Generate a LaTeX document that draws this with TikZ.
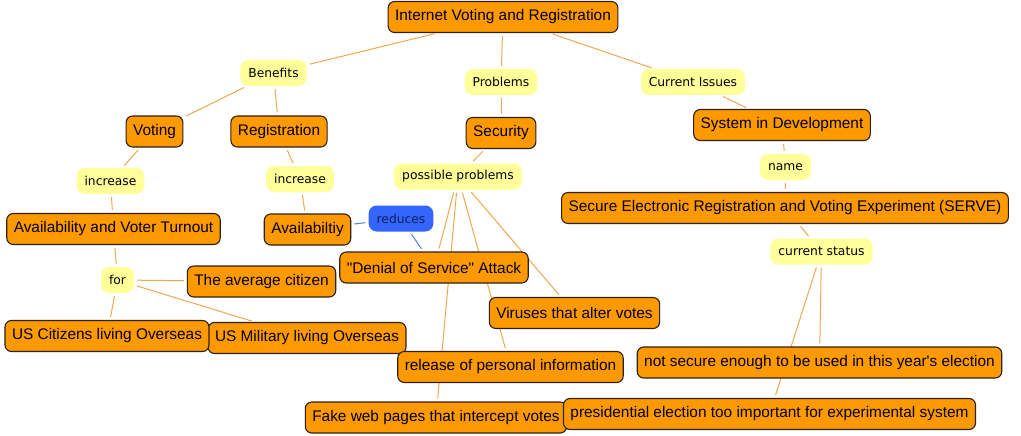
\documentclass[tikz,border=0pt]{standalone}
\usepackage{fontspec}
\usepackage{tikz}
\usetikzlibrary{backgrounds}
\newfontfamily\cfont{Liberation Sans}
\newfontfamily\lfont{DejaVu Sans}
\definecolor{conceptfill}{HTML}{FF9900}
\definecolor{conceptline}{HTML}{2B2117}
\definecolor{labelfill}{HTML}{FFFF99}
\definecolor{verbfill}{HTML}{3366FF}
\definecolor{verbtext}{HTML}{0F1E55}
\definecolor{linkline}{HTML}{EDA850}
\definecolor{bluelinkline}{HTML}{4F7FE8}
\tikzset{
  concept/.style={draw=conceptline,fill=conceptfill,rounded corners=6.5pt,line width=1.1pt,
    minimum height=31pt,inner xsep=7pt,inner ysep=0pt,font=\cfont\fontsize{15.4}{18}\selectfont},
  linklbl/.style={fill=labelfill,rounded corners=8pt,minimum height=26pt,inner xsep=8pt,
    inner ysep=0pt,font=\lfont\fontsize{12.3}{15}\selectfont},
  verblbl/.style={linklbl,fill=verbfill,text=verbtext},
  link/.style={draw=linkline,line width=1pt,shorten >=3pt,shorten <=3pt},
  bluelink/.style={link,draw=bluelinkline},
}

\begin{document}
\begin{tikzpicture}[x=1pt,y=-1pt]
  \useasboundingbox (0,0) rectangle (1021,436);
  % concepts
  \node[concept] (inet) at (503,17) {Internet Voting and Registration};
  \node[concept] (voting) at (154.5,131.5) {Voting};
  \node[concept] (regist) at (279,131.5) {Registration};
  \node[concept] (security) at (501,133) {Security};
  \node[concept] (sysdev) at (782,125) {System in Development};
  \node[concept] (turnout) at (113.5,229) {Availability and Voter Turnout};
  \node[concept] (avail) at (307.5,229.5) {Availabiltiy};
  \node[concept] (serve) at (785,208) {Secure Electronic Registration and Voting Experiment (SERVE)};
  \node[concept] (denial) at (434,267.5) {"Denial of Service" Attack};
  \node[concept] (citizen) at (261.5,281.5) {The average citizen};
  \node[concept] (usmil) at (307,338) {US Military living Overseas};
  \node[concept] (uscit) at (107,336) {US Citizens living Overseas};
  \node[concept] (viruses) at (574.5,313) {Viruses that alter votes};
  \node[concept] (release) at (510.5,367) {release of personal information};
  \node[concept] (notsecure) at (819.5,362.5) {not secure enough to be used in this year's election};
  \node[concept] (fakeweb) at (436,417.5) {Fake web pages that intercept votes};
  \node[concept] (president) at (769.5,414) {presidential election too important for experimental system};
  % linking phrases
  \node[linklbl] (benefits) at (273.5,73) {Benefits};
  \node[linklbl] (problems) at (501,82) {Problems};
  \node[linklbl] (issues) at (693,82) {Current Issues};
  \node[linklbl] (incvote) at (110.5,181) {increase};
  \node[linklbl] (increg) at (300,179) {increase};
  \node[linklbl] (possprob) at (458,176.5) {possible problems};
  \node[linklbl] (sysname) at (785.5,167) {name};
  \node[linklbl] (status) at (821.5,251.5) {current status};
  \node[linklbl] (forlbl) at (117.5,280) {for};
  \node[verblbl] (reduces) at (401,218.5) {reduces};
  % connectors
  \begin{scope}[on background layer]
    \draw[link] (inet) -- (benefits);
    \draw[link] (inet) -- (problems);
    \draw[link] (inet) -- (issues);
    \draw[link] (benefits) -- (voting);
    \draw[link] (benefits) -- (regist);
    \draw[link] (problems) -- (security);
    \draw[link] (issues) -- (sysdev);
    \draw[link] (voting) -- (incvote);
    \draw[link] (incvote) -- (turnout);
    \draw[link] (regist) -- (increg);
    \draw[link] (increg) -- (avail);
    \draw[link] (turnout) -- (forlbl);
    \draw[link] (forlbl) -- (citizen);
    \draw[link] (forlbl) -- (usmil);
    \draw[link] (forlbl) -- (uscit);
    \draw[link] (security) -- (possprob);
    \draw[link] (possprob) -- (denial);
    \draw[link] (possprob) -- (fakeweb);
    \draw[link] (possprob) -- (release);
    \draw[link] (possprob) -- (viruses);
    \draw[link] (sysdev) -- (sysname);
    \draw[link] (sysname) -- (serve);
    \draw[link] (serve) -- (status);
    \draw[link] (status) -- (notsecure);
    \draw[link] (status) -- (president);
    \draw[bluelink] (avail) -- (reduces);
    \draw[bluelink] (reduces) -- (denial);
  \end{scope}
\end{tikzpicture}
\end{document}
